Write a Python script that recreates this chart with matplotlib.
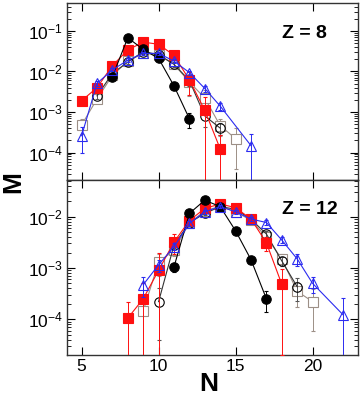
import matplotlib
matplotlib.use("Agg")
import matplotlib.pyplot as plt
from matplotlib.ticker import LogLocator, NullFormatter, FixedLocator

plt.rcParams['font.family'] = ['Liberation Sans', 'DejaVu Sans']
plt.rcParams['mathtext.fontset'] = 'custom'
plt.rcParams['mathtext.rm'] = 'Liberation Sans'
plt.rcParams['mathtext.it'] = 'Liberation Sans:italic'
plt.rcParams['mathtext.bf'] = 'Liberation Sans:bold'

# ---------------- Z = 8 ----------------
n8_bf = [7, 8, 9, 10, 11, 12]
m8_bf = [0.0075, 0.068, 0.035, 0.021, 0.0044, 0.00068]
e8_bf = [0.0008, 0.005, 0.003, 0.002, 0.0006, 0.00028]

n8_rs = [5, 6, 7, 8, 9, 10, 11, 12, 13, 14]
m8_rs = [0.0019, 0.004, 0.014, 0.034, 0.053, 0.047, 0.025, 0.0062, 0.0011, 0.000123]
e8_rs = [0.0002, 0.0005, 0.0015, 0.003, 0.004, 0.004, 0.003, 0.0036, 0.0012, 0.00015]

n8_os = [5, 6, 7, 8, 9, 10, 11, 12, 13, 14, 15]
m8_os = [0.00048, 0.0021, 0.008, 0.018, 0.028, 0.026, 0.015, 0.0055, 0.0022, 0.00046, 0.00022]
e8_os = [0.0002, 0.0004, 0.001, 0.002, 0.003, 0.003, 0.002, 0.003, 0.0012, 0.0002, 0.00018]

n8_oc = [6, 7, 8, 9, 10, 11, 12, 13, 14]
m8_oc = [0.0025, 0.009, 0.017, 0.031, 0.026, 0.015, 0.006, 0.0008, 0.0004]
e8_oc = [0.0004, 0.001, 0.002, 0.003, 0.003, 0.002, 0.0015, 0.00038, 0.00013]

n8_tr = [5, 6, 7, 8, 9, 10, 11, 12, 13, 14, 16]
m8_tr = [0.00026, 0.0051, 0.011, 0.019, 0.028, 0.028, 0.018, 0.0094, 0.0038, 0.0014, 0.000148]
e8_tr = [0.000165, 0.0006, 0.001, 0.002, 0.003, 0.003, 0.002, 0.001, 0.0006, 0.0003, 0.000145]

# ---------------- Z = 12 ----------------
n12_bf = [11, 12, 13, 14, 15, 16, 17]
m12_bf = [0.00105, 0.0116, 0.021, 0.0157, 0.0053, 0.00145, 0.00025]
e12_bf = [0.0002, 0.001, 0.002, 0.0015, 0.0006, 0.0002, 0.00011]

n12_rs = [8, 9, 10, 11, 12, 13, 14, 15, 16, 17, 18]
m12_rs = [0.000105, 0.00025, 0.0009, 0.0032, 0.0084, 0.0145, 0.0177, 0.015, 0.009, 0.0031, 0.00048]
e12_rs = [0.000115, 0.00026, 0.00105, 0.0013, 0.0012, 0.0015, 0.0015, 0.0013, 0.001, 0.001, 0.00046]

n12_oc = [10, 11, 12, 13, 14, 15, 16, 17, 18, 19]
m12_oc = [0.00022, 0.0028, 0.0076, 0.0116, 0.0157, 0.014, 0.0089, 0.0046, 0.00137, 0.00043]
e12_oc = [0.00018, 0.0004, 0.0008, 0.001, 0.0012, 0.0012, 0.0009, 0.0006, 0.0003, 0.0002]

n12_os = [9, 10, 11, 12, 13, 14, 15, 16, 17, 18, 19, 20]
m12_os = [0.000145, 0.0013, 0.0022, 0.0075, 0.013, 0.016, 0.0125, 0.0085, 0.004, 0.0015, 0.00035, 0.00022]
e12_os = [0.00015, 0.0006, 0.0005, 0.0008, 0.0012, 0.0015, 0.0012, 0.0009, 0.0006, 0.0004, 0.00018, 0.00016]

n12_tr = [9, 10, 11, 12, 13, 14, 15, 16, 17, 18, 19, 20, 22]
m12_tr = [0.00047, 0.00115, 0.0026, 0.0074, 0.0125, 0.0157, 0.0125, 0.009, 0.0077, 0.0035, 0.0015, 0.0005, 0.00012]
e12_tr = [0.0002, 0.0003, 0.0004, 0.0008, 0.001, 0.0012, 0.001, 0.0009, 0.0008, 0.0005, 0.0004, 0.00017, 0.00014]

x_ticks = [5, 10, 15, 20]
labels = ["Z = 8", "Z = 12"]

W, H = 364, 403
fig = plt.figure(figsize=(W / 100, H / 100), dpi=100)
L, R = 67 / W, 358 / W
ax1 = fig.add_axes([L, 1 - 180 / H, R - L, 177 / H])
ax2 = fig.add_axes([L, 1 - 355 / H, R - L, 175 / H])

C_RED = '#ff1010'
C_GRAY = '#9c8f86'
C_BLUE = '#2b2bf0'


def draw(ax, series):
    for n, m, e, kw in series:
        col = kw.pop('ecol')
        ax.errorbar(n, m, yerr=e, ecolor=col, elinewidth=0.7, capsize=1.5,
                    capthick=0.7, lw=0.8, **kw)


def series_list(bf, rs, os_, oc, tr):
    return [
        (*os_, dict(marker='s', ms=6.8, mfc='white', mec=C_GRAY, color=C_GRAY, mew=0.8, ecol=C_GRAY, zorder=2)),
        (*tr, dict(marker='^', ms=7.2, mfc='none', mec=C_BLUE, color=C_BLUE, mew=0.8, ecol=C_BLUE, zorder=5)),
        (*oc, dict(marker='o', ms=6.8, mfc='none', mec='black', color='#333333', mew=0.8, ecol='#555555', zorder=3)),
        (*rs, dict(marker='s', ms=6.8, mfc=C_RED, mec=C_RED, color=C_RED, mew=0.8, ecol=C_RED, zorder=4)),
        (*bf, dict(marker='o', ms=6.8, mfc='black', mec='black', color='black', mew=0.8, ecol='black', zorder=4)),
    ]


draw(ax1, series_list((n8_bf, m8_bf, e8_bf), (n8_rs, m8_rs, e8_rs), (n8_os, m8_os, e8_os),
                      (n8_oc, m8_oc, e8_oc), (n8_tr, m8_tr, e8_tr)))
draw(ax2, series_list((n12_bf, m12_bf, e12_bf), (n12_rs, m12_rs, e12_rs), (n12_os, m12_os, e12_os),
                      (n12_oc, m12_oc, e12_oc), (n12_tr, m12_tr, e12_tr)))

ax1.set_ylim(2.1e-5, 0.49)
ax2.set_ylim(2.0e-5, 0.052)
for ax, lab in zip((ax1, ax2), labels):
    ax.set_yscale('log')
    ax.set_xlim(4.05, 22.95)
    ax.xaxis.set_major_locator(FixedLocator(x_ticks))
    ax.xaxis.set_minor_locator(FixedLocator([]))
    ax.yaxis.set_major_locator(LogLocator(base=10, numticks=10))
    ax.yaxis.set_minor_locator(LogLocator(base=10, subs=range(2, 10), numticks=20))
    ax.yaxis.set_minor_formatter(NullFormatter())
    ax.tick_params(axis='both', which='major', direction='in', length=6, width=0.8,
                   top=True, right=True, labelsize=12.5, pad=3)
    ax.tick_params(axis='both', which='minor', direction='in', length=3, width=0.6,
                   top=True, right=True)
    for s in ax.spines.values():
        s.set_linewidth(1.0)
        s.set_color('#333333')
    ax.text(0.739, 0.83, lab, transform=ax.transAxes, ha='left', va='center',
            fontsize=14, fontweight='bold')

ax1.tick_params(axis='x', labelbottom=False)
ax2.set_xticklabels([str(t) for t in x_ticks])

fig.text(13 / W, 1 - 182 / H, 'M', rotation=90, ha='center', va='center',
         fontsize=19, fontweight='bold')
fig.text(209 / W, 1 - 384 / H, 'N', ha='center', va='center',
         fontsize=19, fontweight='bold')

fig.savefig('out.png', dpi=100)
